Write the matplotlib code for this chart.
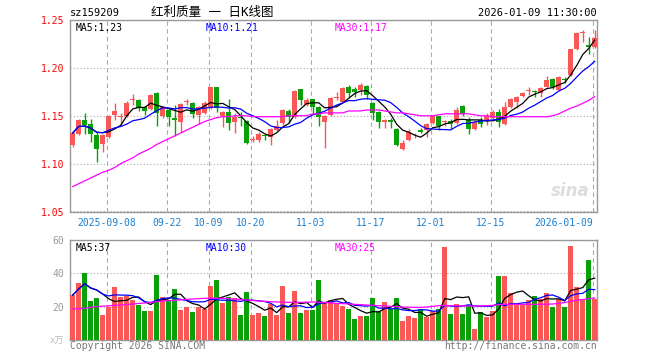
import numpy as np
import pandas as pd
import matplotlib
matplotlib.use('Agg')
import matplotlib.pyplot as plt

plt.rcParams['font.family'] = ['DejaVu Sans Mono', 'Noto Sans CJK SC']

# daily bars, 2025-08-29 .. 2026-01-09
opens = [1.119, 1.131, 1.1456, 1.141, 1.130, 1.1205, 1.128, 1.151, 1.149, 1.150,
         1.166, 1.1665, 1.1595, 1.157, 1.174, 1.1497, 1.156, 1.148, 1.143, 1.164,
         1.163, 1.151, 1.1525, 1.158, 1.180, 1.1497, 1.154, 1.143, 1.149, 1.1448,
         1.125, 1.1247, 1.130, 1.128, 1.135, 1.142, 1.155, 1.149, 1.1776, 1.161,
         1.167, 1.1595, 1.1438, 1.151, 1.169, 1.1647, 1.180, 1.1776, 1.1769, 1.181,
         1.163, 1.154, 1.1438, 1.146, 1.136, 1.1153, 1.1247, 1.1295, 1.135, 1.135,
         1.142, 1.1497, 1.1435, 1.1445, 1.142, 1.1602, 1.146, 1.136, 1.1456, 1.1445,
         1.1473, 1.1536, 1.141, 1.1595, 1.164, 1.1706, 1.1755, 1.1755, 1.1734, 1.1804,
         1.1884, 1.1769, 1.1875, 1.1926, 1.2197, 1.2362, 1.2235, 1.2222]
highs = [1.134, 1.147, 1.153, 1.147, 1.133, 1.131, 1.151, 1.163, 1.153, 1.165,
         1.173, 1.167, 1.160, 1.173, 1.175, 1.160, 1.157, 1.161, 1.163, 1.168,
         1.164, 1.160, 1.165, 1.180, 1.180, 1.155, 1.168, 1.1526, 1.154, 1.146,
         1.129, 1.133, 1.131, 1.137, 1.146, 1.157, 1.157, 1.177, 1.178, 1.169,
         1.168, 1.160, 1.151, 1.170, 1.175, 1.180, 1.182, 1.180, 1.184, 1.182,
         1.164, 1.155, 1.147, 1.148, 1.137, 1.125, 1.136, 1.1325, 1.1375, 1.142,
         1.150, 1.150, 1.146, 1.1465, 1.159, 1.161, 1.149, 1.145, 1.149, 1.153,
         1.156, 1.1567, 1.164, 1.169, 1.171, 1.175, 1.180, 1.177, 1.180, 1.191,
         1.189, 1.192, 1.1905, 1.220, 1.237, 1.2396, 1.2326, 1.2396]
lows = [1.117, 1.130, 1.131, 1.123, 1.102, 1.1125, 1.127, 1.146, 1.140, 1.149,
        1.161, 1.155, 1.151, 1.156, 1.139, 1.148, 1.139, 1.129, 1.133, 1.161,
        1.148, 1.141, 1.152, 1.157, 1.154, 1.1386, 1.135, 1.1323, 1.139, 1.120,
        1.123, 1.123, 1.1245, 1.119, 1.134, 1.140, 1.142, 1.148, 1.161, 1.160,
        1.153, 1.139, 1.1167, 1.150, 1.1665, 1.164, 1.170, 1.170, 1.172, 1.168,
        1.146, 1.137, 1.137, 1.137, 1.118, 1.114, 1.124, 1.1265, 1.132, 1.128,
        1.141, 1.1355, 1.139, 1.136, 1.141, 1.150, 1.131, 1.135, 1.1385, 1.140,
        1.145, 1.1379, 1.140, 1.158, 1.158, 1.170, 1.172, 1.170, 1.170, 1.180,
        1.178, 1.176, 1.184, 1.192, 1.219, 1.2267, 1.215, 1.221]
closes = [1.132, 1.1456, 1.140, 1.131, 1.115, 1.130, 1.150, 1.155, 1.150, 1.1636,
          1.167, 1.158, 1.155, 1.172, 1.1525, 1.1588, 1.149, 1.1456, 1.1625, 1.165,
          1.1515, 1.1595, 1.163, 1.180, 1.158, 1.154, 1.142, 1.1484, 1.148, 1.1218,
          1.126, 1.131, 1.129, 1.136, 1.139, 1.156, 1.149, 1.176, 1.1665, 1.1665,
          1.1595, 1.149, 1.1498, 1.169, 1.170, 1.1787, 1.1734, 1.175, 1.182, 1.1717,
          1.153, 1.1438, 1.1456, 1.1438, 1.1194, 1.122, 1.1333, 1.130, 1.1333, 1.141,
          1.1497, 1.139, 1.144, 1.141, 1.156, 1.1515, 1.136, 1.1438, 1.141, 1.150,
          1.1536, 1.143, 1.1595, 1.168, 1.170, 1.174, 1.176, 1.175, 1.1793, 1.1873,
          1.1797, 1.190, 1.187, 1.2197, 1.2361, 1.2367, 1.222, 1.2309]
ma30_price = [1.076, 1.079, 1.082, 1.085, 1.088, 1.091, 1.093, 1.096, 1.100, 1.103,
              1.106, 1.110, 1.113, 1.116, 1.120, 1.123, 1.126, 1.129, 1.132, 1.135,
              1.138, 1.141, 1.144, 1.146, 1.148, 1.149, 1.149, 1.150, 1.150, 1.150,
              1.149, 1.149, 1.149, 1.149, 1.149, 1.149, 1.150, 1.150, 1.150, 1.150,
              1.152, 1.152, 1.153, 1.153, 1.153, 1.153, 1.155, 1.155, 1.155, 1.156,
              1.156, 1.156, 1.155, 1.154, 1.153, 1.153, 1.152, 1.151, 1.150, 1.150,
              1.150, 1.151, 1.152, 1.152, 1.152, 1.152, 1.152, 1.151, 1.150, 1.150,
              1.149, 1.149, 1.149, 1.149, 1.149, 1.149, 1.149, 1.149, 1.149, 1.149,
              1.150, 1.152, 1.155, 1.158, 1.160, 1.163, 1.166, 1.170]

# volume, x万
volumes = [27, 34.2, 40.2, 23.4, 25.2, 15, 20, 31.8, 25.8, 26.4,
           24, 21, 17.4, 17.4, 39, 25.8, 24, 30.6, 18, 19.8,
           16.8, 19.8, 18.6, 32.4, 36, 22.2, 25.8, 25.2, 15, 28.8,
           15, 16.2, 14.4, 21.6, 15, 32.4, 16.2, 29.4, 16.2, 18,
           18, 36, 22.2, 24, 22, 20.4, 18.6, 12.6, 14.4, 14.4,
           25.2, 17.4, 22.8, 18.6, 25.2, 11.4, 14.4, 13.2, 18.6, 13.8,
           17.4, 18.6, 55.8, 15.6, 21.6, 15.6, 21, 6.6, 16.8, 13.8,
           17.4, 38.4, 38.4, 28.2, 21, 21, 24, 26.4, 24.6, 28.2,
           19.8, 24.6, 19.8, 56.4, 31.8, 24.6, 48, 24.6]
ma30_vol = [18.6, 18.8, 19.0, 19.6, 20.0, 20.3, 20.5, 20.8, 21.0, 21.3,
            21.6, 21.9, 22.2, 22.6, 23.0, 23.4, 23.6, 23.8, 24.1, 24.4,
            24.6, 24.8, 25.0, 25.0, 25.0, 25.0, 24.8, 24.6, 24.3, 24.0,
            23.7, 23.4, 23.2, 23.0, 22.8, 22.7, 22.6, 22.6, 22.6, 22.7,
            22.8, 22.8, 22.5, 22.2, 22.0, 21.8, 21.6, 21.4, 21.2, 21.0,
            20.8, 20.6, 20.4, 20.2, 20.0, 19.8, 19.7, 19.6, 19.6, 19.8,
            20.2, 20.6, 20.8, 20.6, 20.5, 20.4, 20.4, 20.4, 20.4, 20.6,
            20.8, 21.2, 21.4, 21.4, 21.4, 21.4, 21.4, 21.4, 21.4, 21.5,
            21.6, 22.0, 22.5, 23.2, 23.8, 24.3, 24.8, 25.2]

date_idx = [6, 16, 23, 30, 40, 50, 60, 70, 87]
date_labels = ['2025-09-08', '09-22', '10-09', '10-20', '11-03',
               '11-17', '12-01', '12-15', '2026-01-09']

RED = '#fa5757'
GREEN = '#0aa00a'
GRID = '#aaaaaa'
FRAME = '#999999'

df = pd.DataFrame({'open': opens, 'high': highs, 'low': lows, 'close': closes, 'vol': volumes})
x = np.arange(len(df))
up = df['close'] >= df['open']
colors = np.where(up, RED, GREEN)
ma5 = df['close'].rolling(5, min_periods=1).mean()
ma10 = df['close'].rolling(10, min_periods=1).mean()
vma5 = df['vol'].rolling(5, min_periods=1).mean()
vma10 = df['vol'].rolling(10, min_periods=1).mean()

fig = plt.figure(figsize=(6.6, 3.6), dpi=100)
ax = fig.add_axes([70 / 660, 1 - 211.5 / 360, 527 / 660, 191.5 / 360])
axv = fig.add_axes([70 / 660, 20 / 360, 527 / 660, 100 / 360])

xlim = (-0.45, 87.38)
grid_x = [i - 0.33 for i in date_idx]

# candles
ax.vlines(x, df['low'], df['high'], colors=colors, linewidth=1, zorder=3)
body = (df['close'] - df['open']).abs().clip(lower=0.0009)
ax.bar(x, body, bottom=df[['open', 'close']].min(axis=1), width=0.82,
       color=colors, linewidth=0, zorder=3)
ax.plot(x, ma5, color='black', linewidth=0.9, zorder=4)
ax.plot(x, ma10, color='#0000ff', linewidth=0.9, zorder=4)
ax.plot(x, ma30_price, color='#ff00ff', linewidth=0.9, zorder=4)

ax.set_xlim(xlim)
ax.set_ylim(1.05, 1.25)
ax.set_yticks([1.05, 1.10, 1.15, 1.20, 1.25])
ax.set_yticklabels(['1.05', '1.10', '1.15', '1.20', '1.25'], color='red', fontsize=7)
ax.set_xticks(grid_x)
ax.set_xticklabels(date_labels, color='#1a7fd0', fontsize=7)
ax.get_xticklabels()[-1].set_ha('right')
ax.tick_params(length=0, pad=4)
ax.tick_params(axis='x', pad=5)
ax.yaxis.grid(True, linestyle=(0, (1, 2)), color=GRID, linewidth=0.8)
ax.xaxis.grid(True, linestyle=(0, (4, 3)), color=GRID, linewidth=0.8)

ax.text(0.01, 0.985, 'MA5:%.2f' % ma5.iloc[-1], transform=ax.transAxes,
        fontsize=7, color='black', va='top')
ax.text(0.257, 0.985, 'MA10:%.2f' % ma10.iloc[-1], transform=ax.transAxes,
        fontsize=7, color='#0000ff', va='top')
ax.text(0.503, 0.985, 'MA30:%.2f' % ma30_price[-1], transform=ax.transAxes,
        fontsize=7, color='#ff00ff', va='top')
ax.text(0.985, 0.06, 'sina', transform=ax.transAxes, fontsize=12, color='#dddddd',
        ha='right', va='bottom', style='italic', weight='bold', family='DejaVu Sans')

# volume
axv.bar(x, df['vol'], width=0.88, color=colors, linewidth=0, zorder=3)
axv.plot(x, vma5, color='black', linewidth=0.9, zorder=4)
axv.plot(x, vma10, color='#0000ff', linewidth=0.9, zorder=4)
axv.plot(x, ma30_vol, color='#ff00ff', linewidth=0.9, zorder=4)
axv.set_xlim(xlim)
axv.set_ylim(0, 60)
axv.set_yticks([20, 40, 60])
axv.set_yticklabels(['20', '40', '60'], color='#999999', fontsize=7)
axv.set_xticks(grid_x)
axv.set_xticklabels([])
axv.tick_params(length=0, pad=4)
axv.yaxis.grid(True, linestyle=(0, (1, 2)), color=GRID, linewidth=0.8)
axv.xaxis.grid(True, linestyle=(0, (4, 3)), color=GRID, linewidth=0.8)
axv.text(0.01, 0.97, 'MA5:%d' % round(vma5.iloc[-1]), transform=axv.transAxes,
         fontsize=7, color='black', va='top')
axv.text(0.257, 0.97, 'MA10:%d' % round(vma10.iloc[-1]), transform=axv.transAxes,
         fontsize=7, color='#0000ff', va='top')
axv.text(0.503, 0.97, 'MA30:%d' % round(ma30_vol[-1]), transform=axv.transAxes,
         fontsize=7, color='#ff00ff', va='top')

for a in (ax, axv):
    a.set_axisbelow(True)
    for s in a.spines.values():
        s.set_color(FRAME)
        s.set_linewidth(1)

fig.text(70 / 660, 1 - 12.5 / 360, 'sz159209', fontsize=7.5, va='center')
fig.text(212 / 660, 1 - 12.5 / 360, '红利质量 一 日K线图', fontsize=9, va='center', ha='center')
fig.text(597 / 660, 1 - 12.5 / 360, '2026-01-09 11:30:00', fontsize=7.5, va='center', ha='right')
fig.text(64 / 660, 1 - 341 / 360, 'x万', fontsize=6.5, va='center', ha='right', color='#bbbbbb')
fig.text(70 / 660, 1 - 346 / 360, 'Copyright 2026 SINA.COM', fontsize=7, va='center', color='#777777')
fig.text(597 / 660, 1 - 346 / 360, 'http://finance.sina.com.cn', fontsize=7, va='center',
         ha='right', color='#777777')

fig.savefig('out.png', dpi=100)
